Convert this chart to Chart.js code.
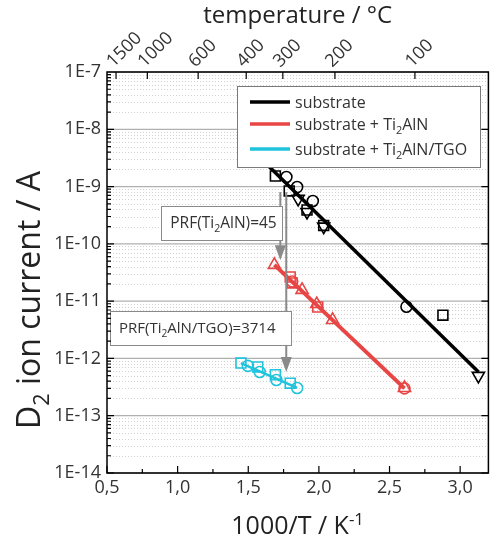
<!DOCTYPE html>
<html>
<head>
<meta charset="utf-8">
<script src="https://cdn.jsdelivr.net/npm/chart.js@4.4.1/dist/chart.umd.min.js"></script>
<style>
  html, body { margin: 0; padding: 0; background: #fff; }
  #wrap { width: 497px; height: 541px; }
</style>
</head>
<body>
<div id="wrap"><canvas id="chart" width="497" height="541"></canvas></div>
<script>
// fitted lines, x = 1000/T (1/K), y = D2 ion current (A)
const substrateLineX = [1.62, 3.13];
const substrateLineY = [2.6e-9, 5.8e-13];
const ti2alnLineX = [1.685, 2.606];
const ti2alnLineY = [4.3e-11, 3.0e-13];
const tgoLineX = [1.448, 1.846];
const tgoLineY = [8.3e-13, 3.05e-13];

// measured points, substrate
const subCircleX = [1.77, 1.846, 1.957, 2.62];
const subCircleY = [1.47e-9, 9.8e-10, 5.6e-10, 8.0e-12];
const subSquareX = [1.692, 1.79, 1.916, 2.034, 2.878];
const subSquareY = [1.53e-9, 8.4e-10, 3.9e-10, 2.1e-10, 5.7e-12];
const subTriangleX = [1.853, 1.916, 2.034, 3.129];
const subTriangleY = [6.1e-10, 3.6e-10, 2.0e-10, 4.95e-13];

// substrate + Ti2AlN
const tiTriangleX = [1.685, 1.881, 1.985, 2.097, 2.606];
const tiTriangleY = [4.3e-11, 1.57e-11, 8.9e-12, 4.7e-12, 3.05e-13];
const tiSquareX = [1.797, 1.811, 1.992];
const tiSquareY = [2.64e-11, 2.08e-11, 7.9e-12];
const tiCircleX = [1.811, 2.606];
const tiCircleY = [2.2e-11, 3.0e-13];

// substrate + Ti2AlN/TGO
const tgoSquareX = [1.448, 1.567, 1.692, 1.797];
const tgoSquareY = [8.3e-13, 7.1e-13, 5.2e-13, 3.7e-13];
const tgoCircleX = [1.497, 1.581, 1.699, 1.846];
const tgoCircleY = [7.4e-13, 5.8e-13, 4.2e-13, 3.05e-13];

// axes
const xTicks = [0.5, 1.0, 1.5, 2.0, 2.5, 3.0];
const yTicks = [1e-14, 1e-13, 1e-12, 1e-11, 1e-10, 1e-9, 1e-8, 1e-7];
const tempTicks = [1500, 1000, 600, 400, 300, 200, 100];

// legend entries: [text, 'sub'|'sup'|''] segments
const legendNames = [
    [['substrate', '']],
    [['substrate + Ti', ''], ['2', 'sub'], ['AlN', '']],
    [['substrate + Ti', ''], ['2', 'sub'], ['AlN/TGO', '']]
];
const prfLabels = [
    [['PRF(Ti', ''], ['2', 'sub'], ['AlN)=45', '']],
    [['PRF(Ti', ''], ['2', 'sub'], ['AlN/TGO)=3714', '']]
];

const BLACK = '#000000';
const RED = '#e84545';
const CYAN = '#1fc3dc';
const FONT = "'Open Sans', sans-serif";

function pts(xs, ys) {
    return xs.map((x, i) => ({ x: x, y: ys[i] }));
}

function lineSet(xs, ys, color, width) {
    return { data: pts(xs, ys), showLine: true, borderColor: color, borderWidth: width, pointRadius: 0, fill: false };
}

function markSet(xs, ys, color, style, radius, rotation) {
    return {
        data: pts(xs, ys), showLine: false, borderColor: color, backgroundColor: 'rgba(0,0,0,0)',
        pointStyle: style, pointRadius: radius, pointBorderWidth: 1.6, pointRotation: rotation || 0
    };
}

function drawRich(ctx, segs, x, y, size, align) {
    const parts = segs.map(s => {
        const sz = s[1] ? size * 0.68 : size;
        ctx.font = sz + 'px ' + FONT;
        return { t: s[0], sz: sz, w: ctx.measureText(s[0]).width, dy: s[1] === 'sub' ? size * 0.28 : (s[1] === 'sup' ? -size * 0.38 : 0) };
    });
    const total = parts.reduce((a, p) => a + p.w, 0);
    let cx = align === 'center' ? x - total / 2 : x;
    ctx.textBaseline = 'alphabetic';
    ctx.textAlign = 'left';
    parts.forEach(p => {
        ctx.font = p.sz + 'px ' + FONT;
        ctx.fillText(p.t, cx, y + p.dy);
        cx += p.w;
    });
}

function arrow(ctx, x, y1, y2) {
    const head = 15;
    ctx.strokeStyle = '#8a8a8a';
    ctx.fillStyle = '#8a8a8a';
    ctx.lineWidth = 2;
    ctx.beginPath();
    ctx.moveTo(x, y1);
    ctx.lineTo(x, y2 - head + 2);
    ctx.stroke();
    ctx.beginPath();
    ctx.moveTo(x - 5.5, y2 - head);
    ctx.lineTo(x + 5.5, y2 - head);
    ctx.lineTo(x, y2);
    ctx.closePath();
    ctx.fill();
}

const decor = {
    id: 'decor',
    beforeDatasetsDraw(chart) {
        const { ctx, chartArea: a, scales: { y } } = chart;
        ctx.save();
        // minor dotted grid
        ctx.strokeStyle = '#d2d2d2';
        ctx.lineWidth = 1;
        ctx.setLineDash([1, 2]);
        for (let d = -14; d < -7; d++) {
            for (let m = 2; m <= 9; m++) {
                const py = Math.round(y.getPixelForValue(m * Math.pow(10, d))) + 0.5;
                ctx.beginPath();
                ctx.moveTo(a.left, py);
                ctx.lineTo(a.right, py);
                ctx.stroke();
            }
        }
        // major grid
        ctx.setLineDash([]);
        ctx.strokeStyle = '#b0b0b0';
        ctx.lineWidth = 1.3;
        yTicks.forEach(v => {
            const py = y.getPixelForValue(v);
            ctx.beginPath();
            ctx.moveTo(a.left, py);
            ctx.lineTo(a.right, py);
            ctx.stroke();
        });
        ctx.restore();
    },
    afterDatasetsDraw(chart) {
        const { ctx, chartArea: a, scales: { x, y, x2 } } = chart;
        ctx.save();

        // PRF arrows
        arrow(ctx, x.getPixelForValue(1.727), y.getPixelForValue(8.0e-10), y.getPixelForValue(5.2e-11));
        arrow(ctx, x.getPixelForValue(1.769), y.getPixelForValue(8.0e-10), y.getPixelForValue(5.8e-13));

        // PRF boxes
        const boxes = [
            { x0: 0.884, x1: 1.741, y0: 4.6e-10, y1: 1.17e-10, size: 15.5 },
            { x0: 0.521, x1: 1.804, y0: 6.75e-12, y1: 1.72e-12, size: 15 }
        ];
        boxes.forEach((b, i) => {
            const l = x.getPixelForValue(b.x0), r = x.getPixelForValue(b.x1);
            const t = y.getPixelForValue(b.y0), btm = y.getPixelForValue(b.y1);
            ctx.fillStyle = '#ffffff';
            ctx.fillRect(l, t, r - l, btm - t);
            ctx.strokeStyle = '#8a8a8a';
            ctx.lineWidth = 1;
            ctx.strokeRect(Math.round(l) + 0.5, Math.round(t) + 0.5, Math.round(r - l), Math.round(btm - t));
            ctx.fillStyle = '#333333';
            drawRich(ctx, prfLabels[i], l + 9, (t + btm) / 2 + 5, b.size, 'left');
        });

        // legend
        const lx = a.left + 130, ly = a.top + 14, lw = 243, lh = 81;
        ctx.fillStyle = '#ffffff';
        ctx.fillRect(lx, ly, lw, lh);
        ctx.strokeStyle = '#7a7a7a';
        ctx.lineWidth = 1;
        ctx.strokeRect(lx + 0.5, ly + 0.5, lw, lh);
        const colors = [BLACK, RED, CYAN];
        const rows = [16, 38, 63];
        legendNames.forEach((segs, i) => {
            const ry = ly + rows[i];
            ctx.strokeStyle = colors[i];
            ctx.lineWidth = 3.5;
            ctx.beginPath();
            ctx.moveTo(lx + 13, ry);
            ctx.lineTo(lx + 53, ry);
            ctx.stroke();
            ctx.fillStyle = '#333333';
            drawRich(ctx, segs, lx + 58, ry + 5.5, 16, 'left');
        });

        // frame
        ctx.strokeStyle = '#000000';
        ctx.lineWidth = 1.5;
        ctx.strokeRect(a.left, a.top, a.right - a.left, a.bottom - a.top);

        // inward tick marks
        ctx.lineWidth = 1.2;
        ctx.beginPath();
        for (let d = -14; d < -7; d++) {
            for (let m = 1; m <= 9; m++) {
                const py = y.getPixelForValue(m * Math.pow(10, d));
                const len = m === 1 ? 7 : 4;
                ctx.moveTo(a.left, py);
                ctx.lineTo(a.left + len, py);
                if (m === 1) {
                    ctx.moveTo(a.right, py);
                    ctx.lineTo(a.right - len, py);
                }
            }
        }
        for (let v = 0.5; v <= 3.2; v += 0.25) {
            const px = x.getPixelForValue(v);
            const len = Math.abs(v * 2 - Math.round(v * 2)) < 1e-6 ? 7 : 4;
            ctx.moveTo(px, a.bottom);
            ctx.lineTo(px, a.bottom - len);
        }
        tempTicks.forEach(c => {
            const px = x2.getPixelForValue(1000 / (c + 273.15));
            ctx.moveTo(px, a.top);
            ctx.lineTo(px, a.top + 7);
        });
        ctx.stroke();
        ctx.restore();
    },
    afterDraw(chart) {
        const { ctx, chartArea: a } = chart;
        ctx.save();
        ctx.fillStyle = '#222222';
        const cx = (a.left + a.right) / 2;
        drawRich(ctx, [['temperature / \u00B0C', '']], cx, 23, 24, 'center');
        drawRich(ctx, [['1000/T / K', ''], ['-1', 'sup']], cx, 534, 25, 'center');
        ctx.translate(40, 300);
        ctx.rotate(-Math.PI / 2);
        drawRich(ctx, [['D', ''], ['2', 'sub'], [' ion current / A', '']], 0, 0, 32, 'center');
        ctx.restore();
    }
};

Chart.defaults.font.family = FONT;
Chart.defaults.color = '#333333';

new Chart(document.getElementById('chart'), {
    type: 'scatter',
    data: {
        datasets: [
            lineSet(substrateLineX, substrateLineY, BLACK, 3.5),
            lineSet(ti2alnLineX, ti2alnLineY, RED, 4),
            lineSet(tgoLineX, tgoLineY, CYAN, 2.5),
            markSet(subCircleX, subCircleY, BLACK, 'circle', 5.5),
            markSet(subSquareX, subSquareY, BLACK, 'rect', 7),
            markSet(subTriangleX, subTriangleY, BLACK, 'triangle', 7, 180),
            markSet(tiTriangleX, tiTriangleY, RED, 'triangle', 7),
            markSet(tiSquareX, tiSquareY, RED, 'rect', 7),
            markSet(tiCircleX, tiCircleY, RED, 'circle', 5.5),
            markSet(tgoSquareX, tgoSquareY, CYAN, 'rect', 7),
            markSet(tgoCircleX, tgoCircleY, CYAN, 'circle', 5.5)
        ]
    },
    options: {
        responsive: false,
        animation: false,
        layout: { padding: { left: 0, right: 2, top: 0, bottom: 0 } },
        plugins: {
            legend: { display: false },
            tooltip: { enabled: false }
        },
        scales: {
            x: {
                type: 'linear',
                position: 'bottom',
                min: 0.5,
                max: 3.2,
                afterBuildTicks: s => { s.ticks = xTicks.map(v => ({ value: v })); },
                afterFit: s => { s.height = 68; },
                grid: { display: false, drawTicks: false },
                border: { display: false },
                ticks: {
                    autoSkip: false,
                    maxRotation: 0,
                    padding: 4,
                    font: { size: 18 },
                    callback: v => v.toFixed(1).replace('.', ',')
                }
            },
            x2: {
                type: 'linear',
                position: 'top',
                min: 0.5,
                max: 3.2,
                afterBuildTicks: s => { s.ticks = tempTicks.map(c => ({ value: 1000 / (c + 273.15) })); },
                afterFit: s => { s.height = 72; },
                grid: { display: false, drawTicks: false },
                border: { display: false },
                ticks: {
                    autoSkip: false,
                    minRotation: 45,
                    maxRotation: 45,
                    padding: 0,
                    labelOffset: 9,
                    font: { size: 18 },
                    callback: (v, i) => String(tempTicks[i])
                }
            },
            y: {
                type: 'logarithmic',
                min: 1e-14,
                max: 1e-7,
                afterBuildTicks: s => { s.ticks = yTicks.map(v => ({ value: v })); },
                afterFit: s => { s.width = 107; },
                grid: { display: false, drawTicks: false },
                border: { display: false },
                ticks: {
                    autoSkip: false,
                    padding: 6,
                    font: { size: 18 },
                    callback: v => '1E' + Math.round(Math.log10(v))
                }
            }
        }
    },
    plugins: [decor]
});
</script>
</body>
</html>
